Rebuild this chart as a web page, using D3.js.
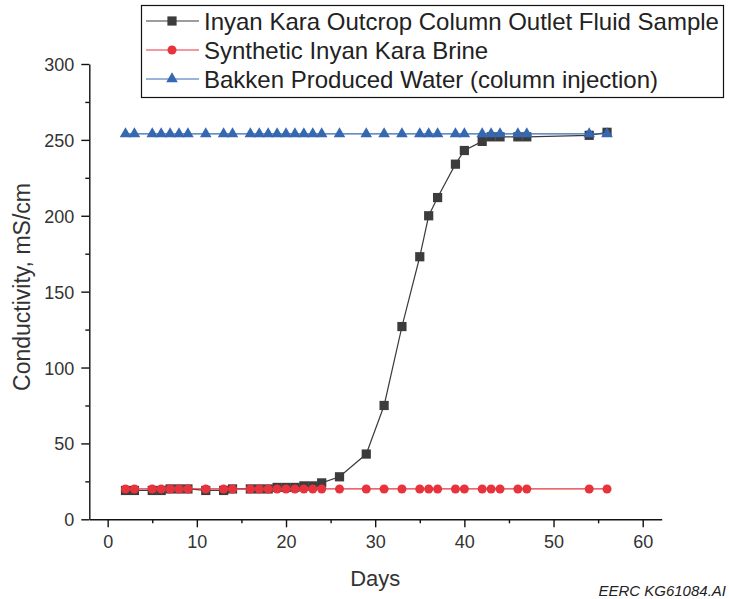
<!DOCTYPE html>
<html lang="en">
<head>
<meta charset="UTF-8">
<title>Conductivity vs Days</title>
<script src="https://d3js.org/d3.v7.min.js"></script>
<style>
  body { margin: 0; background: white; }
  text { font-family: "Liberation Sans", Arial, sans-serif; }
</style>
</head>
<body>
<div id="chart"></div>
<script>
    // days sampled (shared by all three series)
    const days = [2,3,5,6,7,8,9,11,13,14,16,17,18,19,20,21,22,23,24,26,29,31,33,35,36,37,39,40,42,43,44,46,47,54,56]
    const outlet = [19,19,19,19,20,20,20,19,19,20,20,20,20,21,21,21,22,22,24,28,43,75,127,173,200,212,234,243,249,252,252,252,252,253,255]
    const brine = [20,20,20,20,20,20,20,20,20,20,20,20,20,20,20,20,20,20,20,20,20,20,20,20,20,20,20,20,20,20,20,20,20,20,20]
    const bakken = [254,254,254,254,254,254,254,254,254,254,254,254,254,254,254,254,254,254,254,254,254,254,254,254,254,254,254,254,254,254,254,254,254,254,254]
    const seriesNames = ["Inyan Kara Outcrop Column Outlet Fluid Sample", "Synthetic Inyan Kara Brine", "Bakken Produced Water (column injection)"]
    const xTicks = [0,10,20,30,40,50,60]
    const yTicks = [0,50,100,150,200,250,300]

    const width = 729
    const height = 599

    const xScale = d3.scaleLinear().domain([-2.06, 62.13]).range([89.3, 661.7])
    const yScale = d3.scaleLinear().domain([0, 300]).range([519.3, 64])

    const svg = d3.select("div#chart").append("svg")
        .attr("width", width)
        .attr("height", height)

    // minor ticks first, then major axes on top
    svg.append("g")
        .attr("transform", "translate(0," + yScale(0) + ")")
        .call(d3.axisBottom(xScale).tickValues(d3.range(5, 60, 10)).tickSize(4).tickSizeOuter(0).tickFormat(""))
        .call(g => g.select(".domain").remove())
    svg.append("g")
        .attr("transform", "translate(" + xScale.range()[0] + ",0)")
        .call(d3.axisLeft(yScale).tickValues(d3.range(25, 300, 50)).tickSize(4).tickSizeOuter(0).tickFormat(""))
        .call(g => g.select(".domain").remove())

    const xAxis = svg.append("g")
        .attr("class", "axis")
        .attr("transform", "translate(0," + yScale(0) + ")")
        .call(d3.axisBottom(xScale).tickValues(xTicks).tickSize(8).tickSizeOuter(0).tickPadding(8))
    const yAxis = svg.append("g")
        .attr("class", "yAxis")
        .attr("transform", "translate(" + xScale.range()[0] + ",0)")
        .call(d3.axisLeft(yScale).tickValues(yTicks).tickSize(8).tickSizeOuter(0).tickPadding(7))

    svg.selectAll(".tick line, .domain").attr("stroke", "#111").attr("stroke-width", 1.4)
    svg.selectAll(".tick text")
        .style("font-family", "'Liberation Sans', Arial, sans-serif")
        .style("font-size", "18px")
        .attr("fill", "#333")
    yAxis.selectAll(".tick text").attr("dy", "0.36em")

    svg.append("text")
        .attr("x", (xScale(0) + xScale(60)) / 2)
        .attr("y", 586)
        .style("text-anchor", "middle")
        .style("font-size", "22px")
        .attr("fill", "#333")
        .text("Days")

    svg.append("text")
        .attr("transform", "rotate(-90,30,287)")
        .attr("x", 30)
        .attr("y", 287)
        .style("text-anchor", "middle")
        .style("font-size", "23px")
        .attr("fill", "#333")
        .text("Conductivity, mS/cm")

    svg.append("text")
        .attr("x", 726)
        .attr("y", 596)
        .style("text-anchor", "end")
        .style("font-size", "15px")
        .style("font-style", "italic")
        .attr("fill", "#222")
        .text("EERC KG61084.AI")

    const series = [
        {name: seriesNames[0], values: outlet, color: "#3c3c3c", shape: d3.symbolSquare, size: 85},
        {name: seriesNames[1], values: brine, color: "#e8333d", shape: d3.symbolCircle, size: 64},
        {name: seriesNames[2], values: bakken, color: "#3668b2", shape: d3.symbolTriangle, size: 58}
    ]

    const line = d3.line()
        .x((d, i) => xScale(days[i]))
        .y(d => yScale(d))

    series.forEach(s => {
        svg.append("path")
            .attr("d", line(s.values))
            .attr("fill", "none")
            .attr("stroke", s.color)
            .attr("stroke-width", 1.2)
        svg.append("g").selectAll("path")
            .data(s.values)
            .join("path")
            .attr("transform", (d, i) => "translate(" + xScale(days[i]) + "," + yScale(d) + ")")
            .attr("d", d3.symbol().type(s.shape).size(s.size))
            .attr("fill", s.color)
    })

    // legend
    const legend = svg.append("g")
    legend.append("rect")
        .attr("x", 141.5)
        .attr("y", 5.5)
        .attr("width", 582)
        .attr("height", 92)
        .attr("fill", "white")
        .attr("stroke", "#111")
        .attr("stroke-width", 1.2)

    series.forEach((s, i) => {
        const cy = 21 + i * 29
        legend.append("line")
            .attr("x1", 146).attr("x2", 199)
            .attr("y1", cy).attr("y2", cy)
            .attr("stroke", s.color)
            .attr("stroke-width", 1.2)
        legend.append("path")
            .attr("transform", "translate(172," + cy + ")")
            .attr("d", d3.symbol().type(s.shape).size(s.size))
            .attr("fill", s.color)
        legend.append("text")
            .attr("x", 204)
            .attr("y", cy)
            .attr("dy", "0.36em")
            .style("font-size", "24px")
            .attr("fill", "#222")
            .text(s.name)
    })
</script>
</body>
</html>
